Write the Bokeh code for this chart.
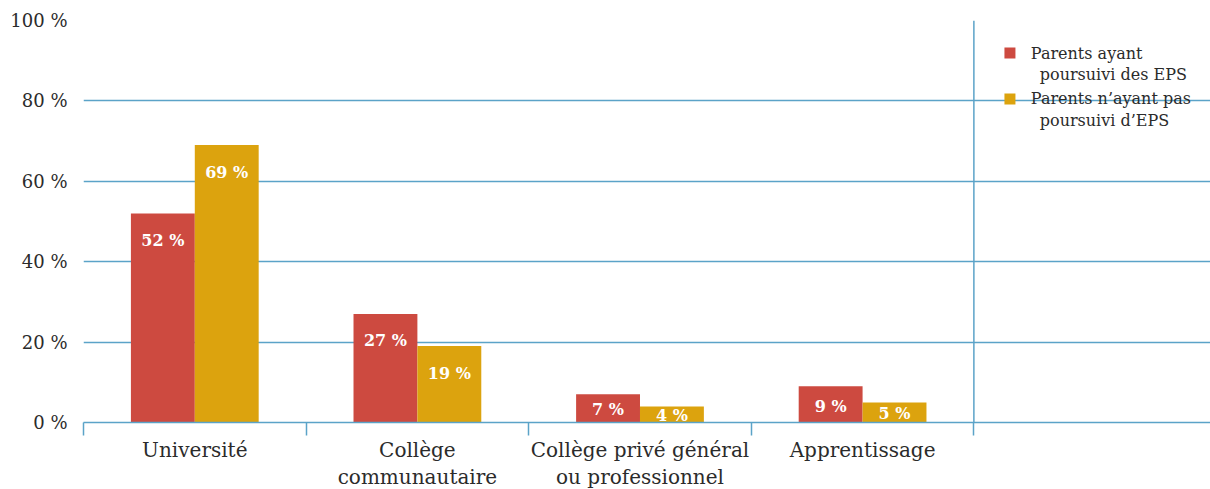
from bokeh.plotting import figure
from bokeh.models import FixedTicker, Span, Label, Range1d, ColumnDataSource
from bokeh.transform import dodge
from bokeh.core.properties import value
from bokeh.embed import file_html
from bokeh.resources import INLINE

# ---- data ----
categories = ["Université", "Collège\ncommunautaire",
              "Collège privé général\nou professionnel", "Apprentissage"]
series_names = ["Parents ayant\npoursuivi des EPS",
                "Parents n’ayant pas\npoursuivi d’EPS"]
parents_eps = [52, 27, 7, 9]
parents_no_eps = [69, 19, 4, 5]
y_ticks = [0, 20, 40, 60, 80, 100]
y_tick_labels = ["0 %", "20 %", "40 %", "60 %", "80 %", "100 %"]

# ---- style ----
RED = "#cd4a40"
YELLOW = "#dca30e"
BLUE = "#5ba3c8"
TEXT = "#2b2b2b"
FONT = "DejaVu Serif"
BAR_W = 0.287
OFF = 0.1435

n = len(categories)
xc = [i + 0.5 for i in range(n)]


def label_y(v):
    return v - 6.7 if v >= 15 else v * 0.45


src = ColumnDataSource(dict(
    x=xc,
    eps=parents_eps,
    noeps=parents_no_eps,
    eps_lab=[f"{v} %" for v in parents_eps],
    noeps_lab=[f"{v} %" for v in parents_no_eps],
    eps_y=[label_y(v) for v in parents_eps],
    noeps_y=[label_y(v) for v in parents_no_eps],
))

p = figure(frame_width=1127, frame_height=402,
           x_range=Range1d(0, 5.063), y_range=Range1d(0, 100),
           output_backend="svg", toolbar_location=None,
           min_border_left=83, min_border_right=0,
           min_border_top=20, min_border_bottom=66)
p.outline_line_color = None
p.background_fill_color = "white"
p.border_fill_color = "white"

# grid
p.xgrid.visible = False
p.ygrid.ticker = FixedTicker(ticks=y_ticks)
p.ygrid.grid_line_color = BLUE
p.ygrid.grid_line_width = 1.5

# y axis
p.yaxis.ticker = FixedTicker(ticks=y_ticks)
p.yaxis.major_label_overrides = {t: l for t, l in zip(y_ticks, y_tick_labels)}
p.yaxis.axis_line_color = None
p.yaxis.major_tick_line_color = None
p.yaxis.minor_tick_line_color = None
p.yaxis.major_tick_out = 0
p.yaxis.major_tick_in = 0
p.yaxis.major_label_standoff = 16
p.yaxis.major_label_text_font = FONT
p.yaxis.major_label_text_font_size = "18px"
p.yaxis.major_label_text_color = TEXT

# x axis
p.xaxis.ticker = FixedTicker(ticks=xc, minor_ticks=list(range(n + 1)))
p.xaxis.major_label_overrides = {x: c for x, c in zip(xc, categories)}
p.xaxis.axis_line_color = BLUE
p.xaxis.axis_line_width = 1.5
p.xaxis.major_tick_line_color = None
p.xaxis.major_tick_out = 0
p.xaxis.major_tick_in = 0
p.xaxis.minor_tick_line_color = BLUE
p.xaxis.minor_tick_line_width = 1.5
p.xaxis.minor_tick_out = 13
p.xaxis.minor_tick_in = 0
p.xaxis.major_label_standoff = 2
p.xaxis.major_label_text_font = FONT
p.xaxis.major_label_text_font_size = "20px"
p.xaxis.major_label_text_color = TEXT
p.xaxis.major_label_text_line_height = 1.15

# separator line for legend area
p.add_layout(Span(location=n, dimension="height", line_color=BLUE, line_width=1.5))

# bars
p.vbar(x=dodge("x", -OFF, range=p.x_range), top="eps", width=BAR_W, bottom=0,
       source=src, fill_color=RED, line_color=None)
p.vbar(x=dodge("x", OFF, range=p.x_range), top="noeps", width=BAR_W, bottom=0,
       source=src, fill_color=YELLOW, line_color=None)

# value labels
for off, ycol, tcol in [(-OFF, "eps_y", "eps_lab"), (OFF, "noeps_y", "noeps_lab")]:
    p.text(x=dodge("x", off, range=p.x_range), y=ycol, text=tcol, source=src,
           text_font=value(FONT), text_font_style="bold", text_font_size="16px",
           text_color="white", text_align="center", text_baseline="middle")

# legend (manual)
leg_x = n + 0.162
leg_text_x = n + 0.256
indent = 0.04
leg_y = [91.9, 80.5]
line_step = 5.3
for name, col, y0 in zip(series_names, [RED, YELLOW], leg_y):
    p.scatter(x=[leg_x], y=[y0], marker="square", size=11,
              fill_color=col, line_color=None)
    for k, line in enumerate(name.split("\n")):
        p.add_layout(Label(x=leg_text_x + (indent if k else 0), y=y0 - k * line_step,
                           text=line, text_font=FONT, text_font_size="16px",
                           text_color=TEXT, text_baseline="middle"))

open("out.html", "w").write(file_html(p, INLINE))
